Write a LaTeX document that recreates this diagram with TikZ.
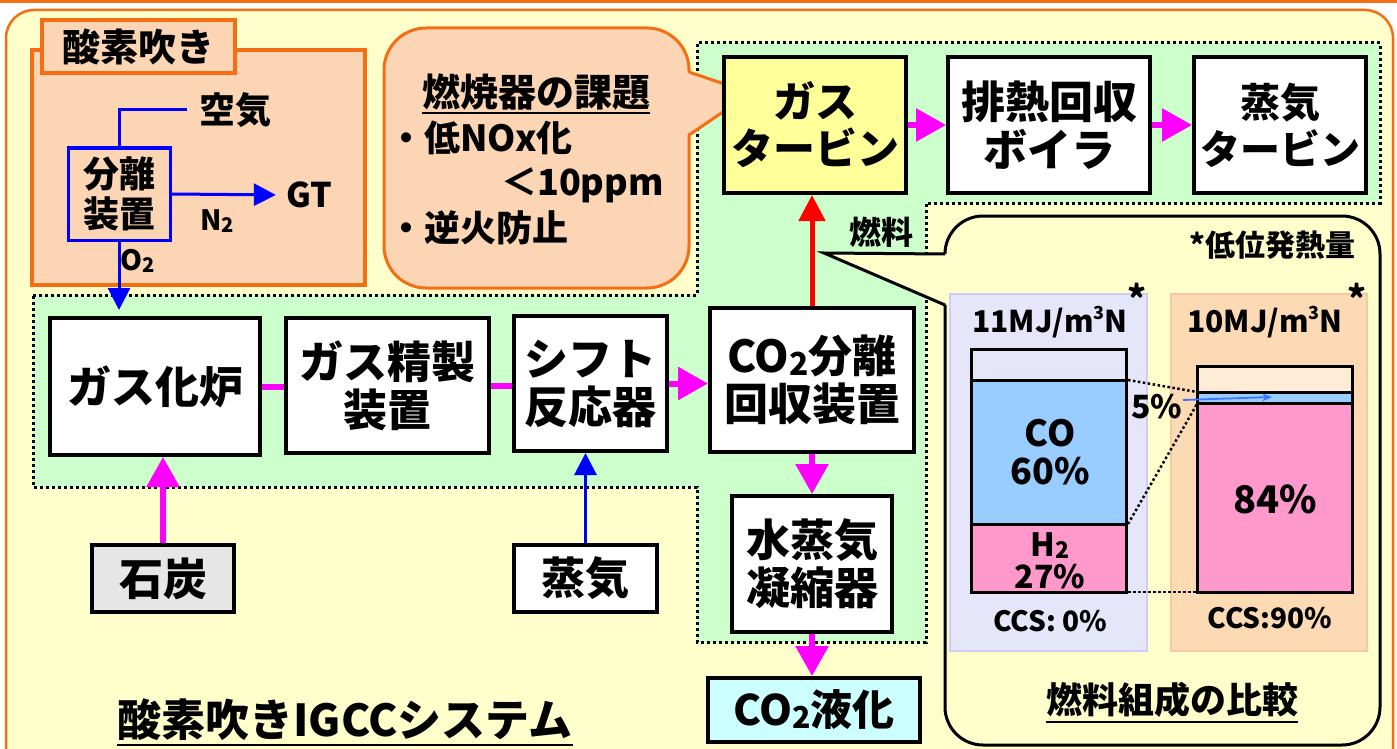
\documentclass[tikz,border=0pt]{standalone}
\usepackage{fontspec}
\setmainfont{Noto Sans CJK JP}
\usetikzlibrary{arrows.meta}
\definecolor{bgyel}{RGB}{255,255,204}
\definecolor{frameor}{RGB}{245,110,20}
\definecolor{peach}{RGB}{251,213,180}
\definecolor{grn}{RGB}{204,255,204}
\definecolor{mag}{RGB}{255,0,255}
\definecolor{gtyel}{RGB}{255,255,153}
\definecolor{cyanl}{RGB}{204,255,255}
\definecolor{coal}{RGB}{230,230,230}
\definecolor{lav}{RGB}{230,230,250}
\definecolor{lavb}{RGB}{205,205,245}
\definecolor{peach2}{RGB}{252,218,180}
\definecolor{peachb}{RGB}{250,200,160}
\definecolor{rtop}{RGB}{255,236,215}
\definecolor{cob}{RGB}{153,204,255}
\definecolor{h2p}{RGB}{255,153,204}
\definecolor{arrblue}{RGB}{60,120,255}
\newcommand\fsz[2]{\fontsize{#1}{#2}\selectfont}
\newcommand\subtwo{\raisebox{-0.06em}{\scalebox{0.72}{2}}}
\newcommand\supthree{\raisebox{0.42em}{\scalebox{0.6}{3}}}
\tikzset{
 pbox/.style={draw=black, line width=4pt, fill=white, align=center, inner sep=0pt, font=\bfseries\fsz{44}{48}},
 magline/.style={draw=mag, line width=6pt},
 magarr/.style={magline, -{Triangle[length=30pt,width=32pt]}},
 redarr/.style={draw=red, line width=5pt, -{Triangle[length=26pt,width=26pt]}},
 bluearr/.style={draw=blue, line width=3pt, -{Triangle[length=22pt,width=22pt]}},
 blueline/.style={draw=blue, line width=3pt},
 dotb/.style={draw=black, line width=3pt, dash pattern=on 3pt off 3pt},
 lbl/.style={inner sep=0pt, font=\bfseries\fsz{36}{40}},
 barseg/.style={draw=black, line width=3pt},
 dotc/.style={draw=black, line width=2.5pt, dash pattern=on 2.5pt off 2.5pt},
}
\begin{document}
\begin{tikzpicture}[x=1pt,y=-1pt]
\useasboundingbox (0,0) rectangle (1397,749);
% outer frame
\draw[draw=frameor, line width=2.5pt, fill=bgyel, rounded corners=28pt] (6,10) rectangle (1393,790);
\draw[draw=frameor, line width=3pt] (0,1.5) -- (1397,1.5);
% green region
\draw[dotb, fill=grn] (33,295) -- (697,295) -- (697,43) -- (1380,43) -- (1380,203) -- (926,203) -- (926,642) -- (697,642) -- (697,487) -- (33,487) -- cycle;
% oxygen panel
\draw[draw=frameor, line width=4pt, fill=peach] (32,50) rectangle (365,285);
\node[draw=frameor, line width=4pt, fill=peach, minimum width=193pt, minimum height=53pt, inner sep=0pt, font=\bfseries\fsz{38}{40}] (tab) at (138.5,46.5) {酸素吹き};
\node[draw=blue, line width=3pt, minimum width=102pt, minimum height=92pt, inner sep=0pt, align=center, font=\bfseries\fsz{36}{40}] (sep) at (119,194) {分離\\装置};
\node[lbl] (air) at (235,110) {空気};
\node[lbl, font=\bfseries\fsz{34}{36}] (gtl) at (309,195) {GT};
\node[lbl, font=\bfseries\fsz{28}{30}] (n2) at (217,221) {N\subtwo};
\node[lbl, font=\bfseries\fsz{28}{30}] (o2) at (138,261) {O\subtwo};
% bubble
\draw[draw=frameor, line width=3pt, fill=peach, rounded corners=42pt] (384,28) rectangle (689,288);
\fill[peach] (686,72) -- (751,93) -- (686,135) -- cycle;
\draw[draw=frameor, line width=3pt] (689,72) -- (751,93) -- (689,135);
\node[inner sep=0pt, font=\bfseries\fsz{38}{40}] (bt) at (536,92) {燃焼器の課題};
\draw[line width=2pt] ([yshift=-3pt]bt.south west) -- ([yshift=-3pt]bt.south east);
\node[anchor=west, lbl] (b1) at (388,138) {・低NOx化};
\node[anchor=east, lbl] (b2) at (664,185) {＜10ppm};
\node[anchor=west, lbl] (b3) at (388,228) {・逆火防止};
% comparison panel
\draw[line width=3pt, fill=bgyel, rounded corners=38pt] (945,216) rectangle (1380,745);
\fill[bgyel] (947,254) -- (824,253) -- (947,305) -- cycle;
\draw[line width=3pt, line join=miter] (945,254) -- (824,253) -- (945,305);
\node[anchor=east, inner sep=0pt, font=\bfseries\fsz{30}{32}] (lhv) at (1356,245) {*低位発熱量};
\draw[draw=lavb, line width=2pt, fill=lav] (950,294) rectangle (1147,651);
\draw[draw=peachb, line width=1.5pt, fill=peach2] (1171,294) rectangle (1367,651);
\node[inner sep=0pt, font=\bfseries\fsz{30}{32}] (e1) at (1050,322) {11MJ/m\supthree N};
\node[inner sep=0pt, font=\bfseries\fsz{36}{36}] (s1) at (1137,298) {*};
\node[inner sep=0pt, font=\bfseries\fsz{30}{32}] (e2) at (1265,322) {10MJ/m\supthree N};
\node[inner sep=0pt, font=\bfseries\fsz{36}{36}] (s2) at (1357,298) {*};
\draw[barseg, fill=lav] (971,349) rectangle (1126,380);
\draw[barseg, fill=cob] (971,380) rectangle (1126,524);
\draw[barseg, fill=h2p] (971,524) rectangle (1126,592);
\draw[barseg, fill=rtop] (1197,366) rectangle (1352,392);
\draw[barseg, fill=cob] (1197,392) rectangle (1352,403);
\draw[barseg, fill=h2p] (1197,403) rectangle (1352,592);
\draw[dotc] (1128,380) -- (1197,392);
\draw[dotc] (1128,524) -- (1197,404);
\draw[dotc] (1128,592) -- (1197,592);
\node[inner sep=0pt, font=\bfseries\fsz{32}{34}] (p5) at (1157,407) {5\%};
\coordinate (ba1) at (1183,400);
\coordinate (ba2) at (1272,397);
\draw[draw=arrblue, line width=1.8pt, -{Stealth[length=10pt,width=8pt]}] (ba1) -- (ba2);
\node[inner sep=0pt, font=\bfseries\fsz{36}{38}, align=center] (co) at (1050,452) {CO\\60\%};
\node[inner sep=0pt, font=\bfseries\fsz{32}{32}, align=center] (h2) at (1050,561) {H\subtwo\\27\%};
\node[inner sep=0pt, font=\bfseries\fsz{38}{40}] (p84) at (1275,499) {84\%};
\node[inner sep=0pt, font=\bfseries\fsz{28}{30}] (ccs1) at (1050,621) {CCS: 0\%};
\node[inner sep=0pt, font=\bfseries\fsz{28}{30}] (ccs2) at (1270,618) {CCS:90\%};
\node[inner sep=0pt, font=\bfseries\fsz{36}{38}] (cmp) at (1172,700) {燃料組成の比較};
\draw[line width=2.5pt] ([yshift=-4pt]cmp.south west) -- ([yshift=-4pt]cmp.south east);
% main boxes
\node[pbox, minimum width=210pt, minimum height=137pt] (gasif) at (155,386.5) {ガス化炉};
\node[pbox, minimum width=203pt, minimum height=135pt] (purif) at (387.5,385.5) {ガス精製\\装置};
\node[pbox, minimum width=153pt, minimum height=135pt] (shift) at (590.5,383.5) {シフト\\反応器};
\node[pbox, minimum width=204pt, minimum height=144pt] (co2sep) at (812,380) {CO\subtwo 分離\\回収装置};
\node[pbox, minimum width=160pt, minimum height=136pt] (cond) at (812,564) {水蒸気\\凝縮器};
\node[pbox, fill=cyanl, minimum width=212pt, minimum height=64pt, font=\bfseries\fsz{42}{44}] (liq) at (814,710) {CO\subtwo 液化};
\node[pbox, fill=coal, minimum width=142pt, minimum height=67pt] (coalb) at (163,578.5) {石炭};
\node[pbox, minimum width=143pt, minimum height=67pt] (steam) at (585.5,578.5) {蒸気};
\node[pbox, fill=gtyel, minimum width=182pt, minimum height=136pt, font=\bfseries\fsz{42}{47}] (gt) at (815,125) {ガス\\タービン};
\node[pbox, minimum width=202pt, minimum height=136pt] (hrsg) at (1049,125) {排熱回収\\ボイラ};
\node[pbox, minimum width=172pt, minimum height=136pt, font=\bfseries\fsz{40}{47}] (st) at (1280,125) {蒸気\\タービン};
\node[lbl, font=\bfseries\fsz{32}{34}] (fuel) at (881,232) {燃料};
% connectors
\draw[blueline] (sep.north) |- ([xshift=-12pt]air.west);
\draw[bluearr, shorten >=10pt] (sep.east) -- (gtl.west);
\draw[bluearr, shorten >=6pt] (sep.south) -- (sep.south |- gasif.north);
\draw[magline] (gasif.east) -- (gasif.east -| purif.west);
\draw[magline] (purif.east) -- (purif.east -| shift.west);
\draw[magarr] (shift.east) -- (shift.east -| co2sep.west);
\draw[magarr] (coalb.north) -- (coalb.north |- gasif.south);
\draw[bluearr] (steam.north) -- (steam.north |- shift.south);
\draw[magarr] (co2sep.south) -- (cond.north);
\draw[magarr] (cond.south) -- (cond.south |- liq.north);
\draw[redarr] (co2sep.north) -- (co2sep.north |- gt.south);
\draw[magarr] (gt.east) -- (hrsg.west);
\draw[magarr] (hrsg.east) -- (st.west);
% title
\node[inner sep=0pt, font=\bfseries\fsz{44}{46}] (title) at (345,720) {酸素吹きIGCCシステム};
\draw[line width=2.5pt] ([yshift=-4pt]title.south west) -- ([yshift=-4pt]title.south east);
\end{tikzpicture}
\end{document}
